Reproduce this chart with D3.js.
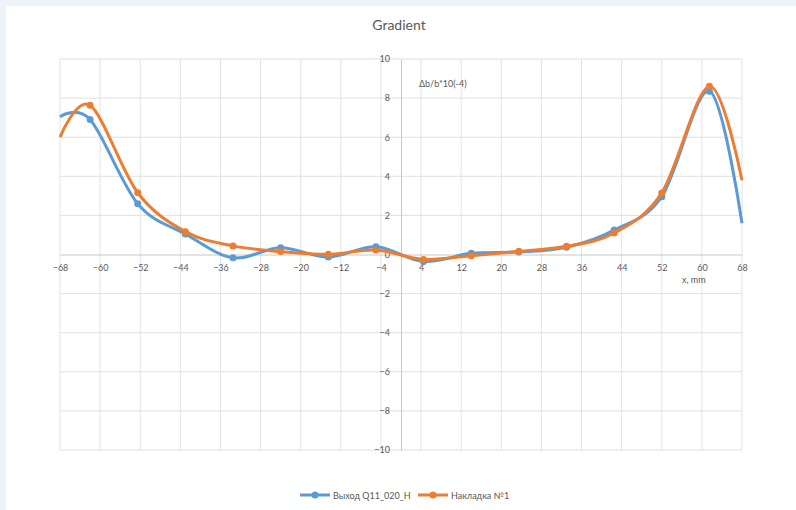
<!DOCTYPE html>
<html>
<head>
<meta charset="utf-8">
<script src="https://cdn.jsdelivr.net/npm/d3@7"></script>
<style>
  html, body { margin: 0; padding: 0; background: #edf3f9; }
  svg { display: block; }
  text { font-family: Lato, "Open Sans", sans-serif; fill: #595959; }
</style>
</head>
<body>
<svg id="chart" width="796" height="510"></svg>
<script>
// Positions along the magnet, mm
const positions = [-68, -62, -52.5, -43, -33.5, -24, -14.5, -5, 4.5, 14, 23.5, 33, 42.5, 52, 61.5, 68];
// Gradient deviation, units of 10^-4
const outputQ11 = [7.05, 6.9, 2.6, 1.05, -0.17, 0.35, -0.13, 0.4, -0.36, 0.06, 0.13, 0.37, 1.25, 2.96, 8.35, 1.6];
const overlay1  = [6.0, 7.63, 3.16, 1.17, 0.44, 0.15, 0.01, 0.23, -0.25, -0.06, 0.16, 0.42, 1.1, 3.15, 8.6, 3.8];
const xTicks = [-68, -60, -52, -44, -36, -28, -20, -12, -4, 4, 12, 20, 28, 36, 44, 52, 60, 68];
const yTicks = [-10, -8, -6, -4, -2, 0, 2, 4, 6, 8, 10];
const seriesNames = ["Выход Q11_020_H", "Накладка №1"];
const seriesColors = ["#5b9bd5", "#ed7d31"];

const svg = d3.select("#chart");
svg.append("rect").attr("x", 6).attr("y", 6).attr("width", 790).attr("height", 504).attr("fill", "#ffffff");

const x = d3.scaleLinear().domain([-68, 68]).range([60, 742]);
const y = d3.scaleLinear().domain([-10, 10]).range([450, 59]);

// grid
const grid = svg.append("g");
grid.selectAll("line.v").data(xTicks).join("line")
  .attr("x1", d => x(d)).attr("x2", d => x(d))
  .attr("y1", y(10)).attr("y2", y(-10))
  .attr("stroke", "#e3e3e3").attr("stroke-width", 1);
grid.selectAll("line.h").data(yTicks.filter(d => d !== 0)).join("line")
  .attr("x1", x(-68)).attr("x2", x(68))
  .attr("y1", d => y(d)).attr("y2", d => y(d))
  .attr("stroke", "#e0e0e0").attr("stroke-width", 1);

// axes through the origin
const xAxis = svg.append("g").attr("transform", `translate(0,${y(0)})`)
  .call(d3.axisBottom(x).tickValues(xTicks).tickSize(0).tickPadding(10).tickFormat(d3.format("d")));
xAxis.select(".domain").attr("stroke", "#c8c8c8");
xAxis.selectAll("text").style("font-size", "9px").style("fill", "#595959");

const yAxis = svg.append("g").attr("transform", `translate(${x(0)},0)`)
  .call(d3.axisLeft(y).tickValues(yTicks).tickSize(0).tickPadding(11).tickFormat(d3.format("d")));
yAxis.select(".domain").attr("stroke", "#c8c8c8");
yAxis.selectAll("text").style("font-size", "9px").style("fill", "#595959");

// titles
svg.append("text").attr("x", 399).attr("y", 30).attr("text-anchor", "middle")
  .style("font-size", "14px").text("Gradient");
svg.append("text").attr("x", 419).attr("y", 87)
  .style("font-size", "9px").text("Δb/b*10(-4)");
svg.append("text").attr("x", 682).attr("y", 283)
  .style("font-size", "9px").text("x, mm");

// series
const line = d3.line()
  .x((d, i) => x(positions[i]))
  .y(d => y(d))
  .curve(d3.curveCardinal.tension(0));

[outputQ11, overlay1].forEach((vals, k) => {
  const g = svg.append("g");
  g.append("path").datum(vals)
    .attr("d", line)
    .attr("fill", "none")
    .attr("stroke", seriesColors[k])
    .attr("stroke-width", 3)
    .attr("stroke-linejoin", "round");
  g.selectAll("circle").data(vals.map((v, i) => [positions[i], v]).filter(p => Math.abs(p[0]) < 68))
    .join("circle")
    .attr("cx", d => x(d[0])).attr("cy", d => y(d[1]))
    .attr("r", 3.5).attr("fill", seriesColors[k]);
});

// legend
const legend = svg.append("g").attr("transform", "translate(0,495)");
const legendX = [300, 418];
seriesNames.forEach((name, k) => {
  const lg = legend.append("g").attr("transform", `translate(${legendX[k]},0)`);
  lg.append("line").attr("x1", 0).attr("x2", 30).attr("y1", 0).attr("y2", 0)
    .attr("stroke", seriesColors[k]).attr("stroke-width", 3);
  lg.append("circle").attr("cx", 15).attr("cy", 0).attr("r", 3.5).attr("fill", seriesColors[k]);
  lg.append("text").attr("x", 33).attr("y", 3.5).style("font-size", "9px").text(name);
});
</script>
</body>
</html>
